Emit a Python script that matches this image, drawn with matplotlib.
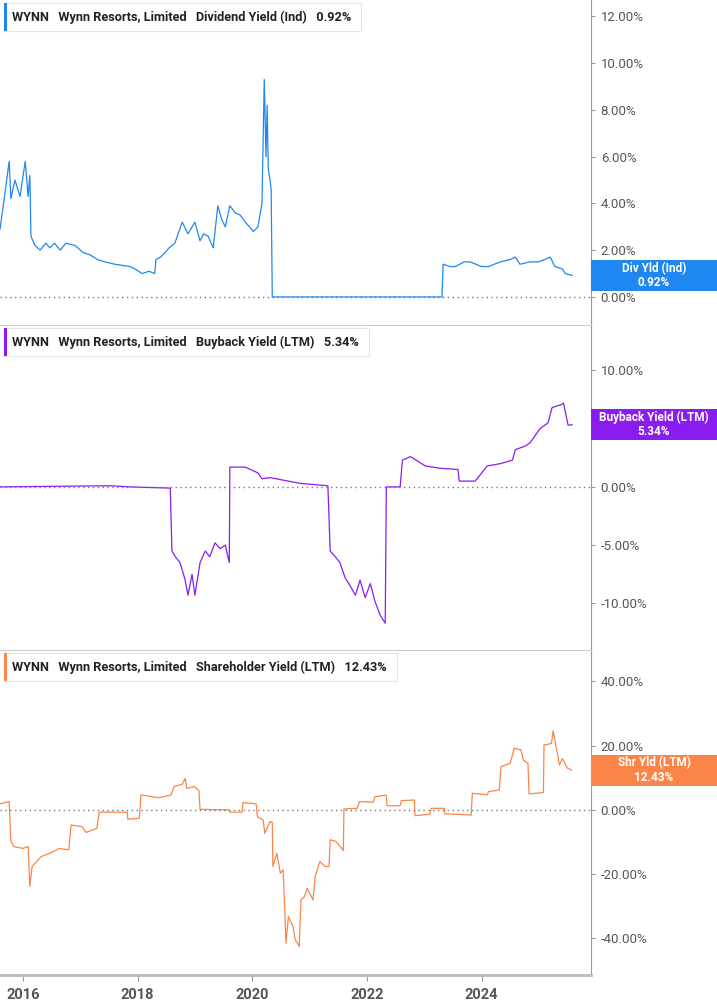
import matplotlib
matplotlib.use("Agg")
import matplotlib.pyplot as plt
from matplotlib.patches import Rectangle

plt.rcParams["font.family"] = "Roboto"

# Dividend yield (Ind), %
div_years = [2015.60, 2015.69, 2015.76, 2015.79, 2015.86, 2015.95, 2016.04, 2016.09, 2016.12, 2016.14,
             2016.21, 2016.30, 2016.40, 2016.47, 2016.55, 2016.65, 2016.75, 2016.91, 2017.05, 2017.17,
             2017.30, 2017.43, 2017.60, 2017.87, 2017.95, 2018.08, 2018.20, 2018.30, 2018.32, 2018.40,
             2018.48, 2018.55, 2018.65, 2018.78, 2018.88, 2019.00, 2019.09, 2019.15, 2019.23, 2019.32,
             2019.40, 2019.47, 2019.53, 2019.61, 2019.70, 2019.79, 2019.88, 2020.02, 2020.10, 2020.17,
             2020.21, 2020.24, 2020.26, 2020.28, 2020.31, 2020.33, 2020.35, 2023.31, 2023.33, 2023.45,
             2023.54, 2023.70, 2023.80, 2024.00, 2024.12, 2024.33, 2024.50, 2024.59, 2024.67, 2024.85,
             2025.00, 2025.20, 2025.28, 2025.41, 2025.46, 2025.58]
div_vals = [2.9, 4.5, 5.8, 4.2, 5.0, 4.3, 5.8, 4.3, 5.2, 2.6,
            2.2, 2.0, 2.3, 2.1, 2.3, 2.0, 2.3, 2.2, 1.9, 1.8,
            1.6, 1.5, 1.4, 1.3, 1.2, 1.0, 1.1, 1.0, 1.6, 1.7,
            1.9, 2.1, 2.3, 3.2, 2.7, 3.2, 2.4, 2.7, 2.6, 2.1,
            3.9, 3.3, 3.0, 3.9, 3.6, 3.5, 3.2, 2.8, 3.0, 4.0,
            9.3, 6.0, 8.2, 5.5, 5.0, 4.6, 0.0, 0.0, 1.4, 1.3,
            1.3, 1.5, 1.5, 1.3, 1.3, 1.5, 1.6, 1.7, 1.4, 1.5,
            1.5, 1.7, 1.3, 1.2, 1.0, 0.92]

# Buyback yield (LTM), %
bb_years = [2015.60, 2016.50, 2017.52, 2017.87, 2018.57, 2018.60, 2018.66, 2018.74, 2018.83, 2018.88,
            2018.95, 2019.00, 2019.09, 2019.18, 2019.26, 2019.35, 2019.44, 2019.53, 2019.60, 2019.61,
            2019.88, 2020.10, 2020.17, 2020.31, 2020.84, 2021.32, 2021.36, 2021.45, 2021.53, 2021.62,
            2021.71, 2021.80, 2021.88, 2021.97, 2022.06, 2022.14, 2022.23, 2022.32, 2022.34, 2022.58,
            2022.62, 2022.76, 2023.02, 2023.28, 2023.59, 2023.61, 2023.89, 2024.10, 2024.33, 2024.54,
            2024.59, 2024.76, 2024.85, 2025.02, 2025.16, 2025.23, 2025.34, 2025.37, 2025.43, 2025.51,
            2025.58]
bb_vals = [0.0, 0.05, 0.1, 0.0, -0.1, -5.5, -6.0, -6.5, -8.0, -9.3,
           -7.5, -9.3, -6.5, -5.5, -6.0, -4.8, -5.3, -5.0, -6.5, 1.7,
           1.7, 1.2, 0.7, 0.8, 0.3, 0.1, -5.5, -6.0, -6.5, -7.8,
           -8.5, -9.3, -8.0, -9.5, -8.3, -9.8, -11.0, -11.7, 0.0, 0.0,
           2.3, 2.6, 1.8, 1.6, 1.5, 0.5, 0.5, 1.8, 2.0, 2.3,
           3.2, 3.5, 3.8, 5.0, 5.5, 6.8, 7.0, 7.0, 7.2, 5.3,
           5.34]

# Shareholder yield (LTM), %
sh_years = [2015.60, 2015.76, 2015.79, 2015.84, 2016.00, 2016.09, 2016.12, 2016.16, 2016.32, 2016.47,
            2016.63, 2016.80, 2016.84, 2017.03, 2017.10, 2017.29, 2017.33, 2017.82, 2017.83, 2018.03,
            2018.06, 2018.36, 2018.58, 2018.64, 2018.78, 2018.83, 2018.86, 2018.99, 2019.07, 2019.09,
            2019.60, 2019.61, 2019.82, 2019.84, 2020.07, 2020.09, 2020.19, 2020.22, 2020.31, 2020.35,
            2020.36, 2020.43, 2020.49, 2020.54, 2020.59, 2020.63, 2020.71, 2020.75, 2020.82, 2020.85,
            2020.91, 2020.96, 2021.06, 2021.10, 2021.18, 2021.27, 2021.34, 2021.36, 2021.46, 2021.59,
            2021.60, 2021.83, 2021.87, 2022.11, 2022.14, 2022.34, 2022.35, 2022.58, 2022.60, 2022.83,
            2022.84, 2023.10, 2023.12, 2023.35, 2023.36, 2023.82, 2023.84, 2024.10, 2024.12, 2024.31,
            2024.34, 2024.50, 2024.57, 2024.69, 2024.73, 2024.81, 2024.83, 2025.08, 2025.09, 2025.22,
            2025.25, 2025.30, 2025.36, 2025.41, 2025.50, 2025.57]
sh_vals = [1.9, 2.6, -9.8, -11.4, -12.0, -11.4, -23.8, -17.6, -14.5, -13.5,
           -12.0, -12.4, -4.7, -5.2, -7.0, -5.7, -0.7, -0.7, -2.9, -2.6,
           4.7, 3.8, 4.6, 7.3, 8.0, 9.8, 6.7, 7.3, 6.0, 0.2,
           0.0, -0.7, -0.7, 2.3, 1.9, -2.1, -3.1, -7.3, -3.6, -3.9,
           -17.6, -13.5, -19.7, -18.7, -41.5, -33.2, -36.3, -40.4, -42.5, -28.0,
           -27.0, -24.4, -28.0, -20.7, -16.1, -17.6, -17.6, -9.3, -9.8, -12.6,
           0.3, 0.5, 2.6, 2.4, 4.1, 4.6, 1.3, 1.3, 2.9, 3.1,
           -1.8, -1.3, 0.5, 0.5, -1.2, -1.6, 5.2, 4.7, 5.7, 6.2,
           13.5, 14.5, 19.2, 18.7, 15.5, 14.5, 5.0, 5.4, 20.2, 20.7,
           24.7, 19.7, 14.0, 16.0, 13.0, 12.43]

panels = [
    dict(x=div_years, y=div_vals, color="#1e88f0", title="Dividend Yield (Ind)", last="0.92%",
         tag="Div Yld (Ind)", ylim=(-1.2, 12.7), ticks=[0, 2, 4, 6, 8, 10, 12]),
    dict(x=bb_years, y=bb_vals, color="#8a1cf0", title="Buyback Yield (LTM)", last="5.34%",
         tag="Buyback Yield (LTM)", ylim=(-14.0, 13.9), ticks=[-10, -5, 0, 5, 10]),
    dict(x=sh_years, y=sh_vals, color="#fb8548", title="Shareholder Yield (LTM)", last="12.43%",
         tag="Shr Yld (LTM)", ylim=(-51.4, 49.8), ticks=[-40, -20, 0, 20, 40]),
]

W, H = 717, 1005
fig = plt.figure(figsize=(W / 100, H / 100), dpi=100)
grey = "#999999"
tops = [0, 325, 650]
ph = 325
inv = fig.transFigure.inverted()

for i, p in enumerate(panels):
    top = tops[i]
    ax = fig.add_axes([0, 1 - (top + ph) / H, 591 / W, ph / H])
    ax.plot(p["x"], p["y"], color=p["color"], lw=0.9)
    ax.axhline(0, color="#777777", lw=1, ls=(0, (1, 2.5)))
    ax.set_xlim(2015.6, 2025.91)
    ax.set_ylim(*p["ylim"])
    ax.yaxis.tick_right()
    ax.set_yticks(p["ticks"])
    ax.set_yticklabels(["{:.2f}%".format(t) for t in p["ticks"]])
    ax.tick_params(axis="y", length=3, color=grey, labelcolor="#555555", labelsize=9.5, pad=4)
    ax.spines["left"].set_visible(False)
    ax.spines["right"].set_color(grey)
    ax.spines["top"].set_color("#cccccc")
    ax.spines["top"].set_visible(i > 0)
    ax.set_facecolor("none")
    if i < 2:
        ax.spines["bottom"].set_visible(False)
        ax.set_xticks([])
    else:
        ax.spines["bottom"].set_color("#bbbbbb")
        ax.spines["bottom"].set_linewidth(2)
        ax.set_xticks([2016, 2018, 2020, 2022, 2024])
        ax.set_xticklabels(["2016", "2018", "2020", "2022", "2024"])
        ax.tick_params(axis="x", length=4, color=grey, labelcolor="#555555", labelsize=10.5, pad=5)
        for t in ax.get_xticklabels():
            t.set_fontweight("bold")

    # legend box (top-left)
    ty = 1 - (top + 17) / H
    txt = fig.text(12 / W, ty, "WYNN   Wynn Resorts, Limited   " + p["title"] + "   " + p["last"],
                   fontsize=9.2, fontweight="bold", color="#222222", va="center", ha="left", zorder=7)
    fig.canvas.draw()
    bb = txt.get_window_extent()
    (bx0, by0) = inv.transform((4, bb.y0 - 7))
    (bx1, by1) = inv.transform((bb.x1 + 10, bb.y1 + 7))
    fig.add_artist(Rectangle((bx0, by0), bx1 - bx0, by1 - by0, transform=fig.transFigure,
                             facecolor="white", edgecolor="#e4e4e4", lw=0.8, zorder=5))
    fig.add_artist(Rectangle((bx0, by0), 3 / W, by1 - by0, transform=fig.transFigure,
                             facecolor=p["color"], edgecolor="none", zorder=6))

    # value tag on the right; tick labels it covers are hidden
    ylo, yhi = p["ylim"]
    yv = p["y"][-1]
    fy = 1 - (top + ph) / H + (yv - ylo) / (yhi - ylo) * ph / H
    th = 31 / H
    span = (yhi - ylo) * 12 / ph
    for t, lab in zip(p["ticks"], ax.get_yticklabels()):
        if abs(t - yv) < span:
            lab.set_visible(False)
    fig.add_artist(Rectangle((591 / W, fy - th / 2), 1 - 591 / W, th, transform=fig.transFigure,
                             facecolor=p["color"], edgecolor="none", zorder=5))
    fig.text((591 + 717) / 2 / W, fy, p["tag"] + "\n" + p["last"], ha="center", va="center",
             color="white", fontsize=8.5, fontweight="bold", linespacing=1.1, zorder=6)

fig.savefig("out.png", dpi=100)
